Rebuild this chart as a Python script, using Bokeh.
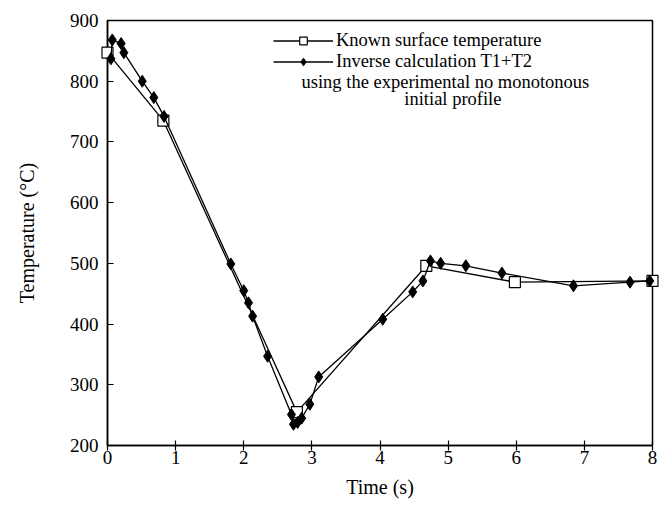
from bokeh.plotting import figure
from bokeh.models import Range1d, Legend, LegendItem, Label, FixedTicker
from bokeh.embed import file_html
from bokeh.resources import INLINE

# Known surface temperature (squares)
known_t = [0.0, 0.82, 2.78, 4.68, 5.98, 8.0]
known_T = [847, 735, 255, 496, 469, 471]

# Inverse calculation T1+T2 (diamonds)
inv_t = [0.05, 0.07, 0.20, 0.24, 0.51, 0.68, 0.83, 1.81, 2.00, 2.07, 2.13, 2.35,
         2.70, 2.73, 2.79, 2.85, 2.97, 3.10, 4.04, 4.48, 4.63, 4.74, 4.89, 5.26,
         5.79, 6.84, 7.67, 7.96]
inv_T = [837, 868, 862, 847, 800, 773, 742, 499, 455, 435, 413, 347,
         251, 235, 238, 245, 268, 313, 408, 453, 471, 504, 500, 496,
         484, 463, 469, 471]

x_ticks = [0, 1, 2, 3, 4, 5, 6, 7, 8]
y_ticks = [200, 300, 400, 500, 600, 700, 800, 900]

FONT = "Liberation Serif"

p = figure(width=664, height=506, output_backend="svg", toolbar_location=None,
           x_range=Range1d(0, 8), y_range=Range1d(200, 900),
           min_border_left=107, min_border_right=12, min_border_top=20,
           min_border_bottom=61)
p.xgrid.visible = False
p.ygrid.visible = False
p.outline_line_color = "black"
p.outline_line_width = 1.5
p.background_fill_color = "white"
p.border_fill_color = "white"

# axes
p.xaxis.ticker = FixedTicker(ticks=x_ticks)
p.yaxis.ticker = FixedTicker(ticks=y_ticks)
for ax in (p.xaxis[0], p.yaxis[0]):
    ax.axis_line_width = 1.5
    ax.axis_line_color = "black"
    ax.major_tick_line_color = "black"
    ax.major_tick_line_width = 1.2
    ax.minor_tick_line_color = None
    ax.major_label_text_font = FONT
    ax.major_label_text_font_size = "19px"
    ax.major_label_text_color = "black"
    ax.axis_label_text_font = FONT
    ax.axis_label_text_font_size = "20px"
    ax.axis_label_text_font_style = "normal"
    ax.axis_label_text_color = "black"

p.xaxis.axis_label = "Time (s)"
p.xaxis.major_tick_in = 5
p.xaxis.major_tick_out = 5
p.xaxis.major_label_standoff = 0
p.xaxis.axis_label_standoff = 9

p.yaxis.axis_label = "Temperature (°C)"
p.yaxis.major_tick_in = 6
p.yaxis.major_tick_out = 0
p.yaxis.major_label_standoff = 9
p.yaxis.axis_label_standoff = 29

# data
l1 = p.line(known_t, known_T, line_color="black", line_width=1.3, level="overlay")
s1 = p.scatter(known_t, known_T, marker="square", size=11, fill_color="white",
               line_color="black", line_width=1.2, level="overlay")
l2 = p.line(inv_t, inv_T, line_color="black", line_width=1.3, level="overlay")
s2 = p.scatter(inv_t, inv_T, marker="diamond", size=12, fill_color="black",
               line_color="black", level="overlay")

legend = Legend(items=[
    LegendItem(label="Known surface temperature", renderers=[l1, s1]),
    LegendItem(label="Inverse calculation T1+T2", renderers=[l2, s2]),
], location=(166, 373), glyph_width=60, glyph_height=19, label_height=19,
    label_standoff=3, spacing=0, padding=0, margin=0,
    label_text_font=FONT, label_text_font_size="18.5px", label_text_color="black",
    background_fill_alpha=0, border_line_color=None)
p.add_layout(legend, "center")

p.add_layout(Label(x=4.96, y=799, text="using the experimental no monotonous",
                   text_font=FONT, text_font_size="18.5px", text_align="center",
                   text_baseline="middle", text_color="black"))
p.add_layout(Label(x=5.07, y=770, text="initial profile",
                   text_font=FONT, text_font_size="18.5px", text_align="center",
                   text_baseline="middle", text_color="black"))

open("out.html", "w").write(file_html(p, INLINE))
